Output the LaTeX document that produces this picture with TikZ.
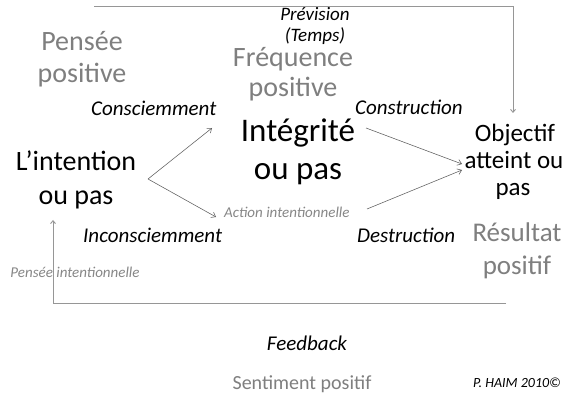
\documentclass[tikz,border=0pt]{standalone}
\usepackage{fontspec}
\setmainfont{Carlito}
\usetikzlibrary{arrows.meta}
\definecolor{txtgray}{RGB}{127,127,127}
\definecolor{smallgray}{RGB}{135,135,135}
\definecolor{arrowgray}{RGB}{95,95,95}
\definecolor{loopgray}{RGB}{150,150,150}
\begin{document}
\begin{tikzpicture}[x=1pt,y=-1pt,
  lbl/.style={inner sep=0pt, anchor=base},
  lblw/.style={inner sep=0pt, anchor=base west},
  fbig/.style={font=\fontsize{28}{30}\selectfont},
  fhuge/.style={font=\fontsize{33}{36}\selectfont},
  fobj/.style={font=\fontsize{25}{27}\selectfont},
  fres/.style={font=\fontsize{27}{29}\selectfont},
  fit21/.style={font=\fontsize{21}{23}\selectfont\itshape},
  fit19/.style={font=\fontsize{19}{21}\selectfont\itshape},
  fsmall/.style={font=\fontsize{15}{17}\selectfont\itshape, text=smallgray},
  fsent/.style={font=\fontsize{20}{22}\selectfont},
  fcopy/.style={font=\fontsize{14}{16}\selectfont\itshape},
  gtext/.style={text=txtgray},
  thinarrow/.style={draw=arrowgray, line width=0.55pt, -{Straight Barb[length=4pt,width=6pt]}},
  looparrow/.style={draw=loopgray, line width=0.9pt, -{Straight Barb[length=3pt,width=5pt]}}
]
\path[fill=white] (0,0) rectangle (564,395);
\useasboundingbox (0,0) rectangle (564,395);

% texts
\node[lbl,fit19] (prev1) at (315,21) {Prévision};
\node[lbl,fit19] (prev2) at (315,42) {(Temps)};
\node[lbl,fbig,gtext] (pens1) at (82,51) {Pensée};
\node[lbl,fbig,gtext] (pens2) at (82,83) {positive};
\node[lbl,fbig,gtext] (freq1) at (293,67) {Fréquence};
\node[lbl,fbig,gtext] (freq2) at (293,97) {positive};
\node[lblw,fit21] (consc) at (91,116) {Consciemment};
\node[lblw,fit21] (constr) at (355,115) {Construction};
\node[lbl,fhuge] (integ1) at (298,142) {Intégrité};
\node[lbl,fhuge] (integ2) at (298,180) {ou pas};
\node[lbl,fbig] (inten1) at (76,171) {L’intention};
\node[lbl,fbig] (inten2) at (76,205) {ou pas};
\node[lbl,fobj] (obj1) at (515,142) {Objectif};
\node[lbl,fobj] (obj2) at (514,169) {atteint ou};
\node[lbl,fobj] (obj3) at (513,196) {pas};
\node[lblw,fsmall] (action) at (224,218) {Action intentionnelle};
\node[lblw,fit21] (inconsc) at (83,242) {Inconsciemment};
\node[lblw,fit21] (destr) at (357,242) {Destruction};
\node[lbl,fres,gtext] (res1) at (517,241) {Résultat};
\node[lbl,fres,gtext] (res2) at (517,274) {positif};
\node[lbl,fsmall] (pint) at (75,277) {Pensée intentionnelle};
\node[lbl,fit21] (feed) at (307,350) {Feedback};
\node[lbl,fsent,gtext] (sent) at (302,389) {Sentiment positif};
\node[lbl,fcopy] (copy) at (517,387) {P. HAIM 2010©};

% connector end points
\coordinate (apex) at (148,179);
\coordinate (upTip) at (212,128);
\coordinate (lowTip) at (216,217);
\coordinate (rUpStart) at (366,128);
\coordinate (rLowStart) at (367,209);
\coordinate (rUpTip) at (462,164);
\coordinate (rLowTip) at (462,170);
\coordinate (topStart) at (94,6);
\coordinate (topTip) at (513,113);
\coordinate (botStart) at (506,303);
\coordinate (botTip) at (53,220);

% connectors
\draw[thinarrow] (apex) -- (upTip);
\draw[thinarrow] (apex) -- (lowTip);
\draw[thinarrow] (rUpStart) -- (rUpTip);
\draw[thinarrow] (rLowStart) -- (rLowTip);
\draw[looparrow] (topStart) -| (topTip);
\draw[looparrow] (botStart) -| (botTip);
\end{tikzpicture}
\end{document}
